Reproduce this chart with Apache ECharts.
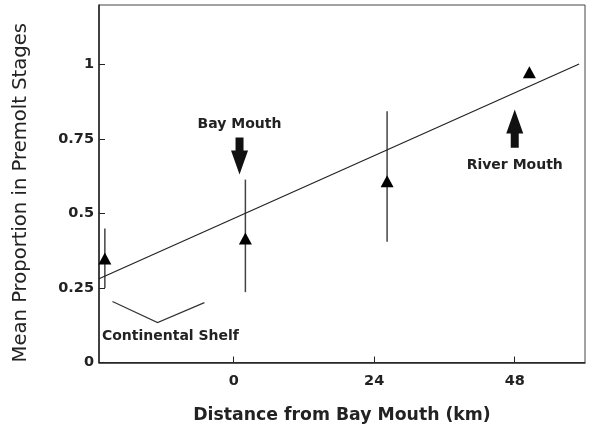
<!DOCTYPE html>
<html><head><meta charset="utf-8">
<script src="https://cdn.jsdelivr.net/npm/echarts@6/dist/echarts.min.js"></script>
<style>html,body{margin:0;padding:0;background:#fff}#c{width:594px;height:429px}</style>
</head><body><div id="c"></div>
<script>
// Data
var siteX = [-22, 2, 26.2, 50.5];
var meanY = [0.349, 0.416, 0.608, 0.974];
var errLow = [0.25, 0.236, 0.405, null];
var errHigh = [0.45, 0.614, 0.843, null];
var fitX = [-23, 59];
var fitY = [0.281, 1.002];
var xTicks = [0, 24, 48];
var yTicks = [0, 0.25, 0.5, 0.75, 1];
// annotations (data coordinates)
var bayArrow = {x: 1.0, yTop: 0.755, yTip: 0.631, label: 'Bay Mouth', labelY: 0.80};
var riverArrow = {x: 48.0, yTip: 0.849, yBottom: 0.721, label: 'River Mouth', labelY: 0.662};
var shelfBracket = [[-20.7, 0.205], [-13.0, 0.134], [-5.0, 0.201]];
var shelfLabel = {x: -10.8, y: 0.087, text: 'Continental Shelf'};

var FONT = 'DejaVu Sans';
var chart = echarts.init(document.getElementById('c'), null, {renderer: 'canvas'});

var errData = siteX.map(function (x, i) { return [x, errLow[i], errHigh[i]]; }).filter(function (d) { return d[1] != null; });

function arrowShape(api, x, yTail, yTip, up) {
  var tail = api.coord([x, yTail]);
  var tip = api.coord([x, yTip]);
  var dir = up ? -1 : 1;
  var headLen = 24, headW = 8.5, shaftW = 4;
  var neckY = tip[1] - dir * headLen;
  return {
    type: 'polygon',
    shape: {points: [
      [tail[0] - shaftW, tail[1]], [tail[0] + shaftW, tail[1]],
      [tail[0] + shaftW, neckY], [tail[0] + headW, neckY],
      [tip[0], tip[1]],
      [tail[0] - headW, neckY], [tail[0] - shaftW, neckY]
    ]},
    style: {fill: '#111'}
  };
}

var annotStyle = {fontFamily: FONT, fontSize: 14, fontWeight: 'bold', fill: '#222', align: 'center', verticalAlign: 'middle'};

var option = {
  animation: false,
  backgroundColor: '#fff',
  grid: {left: 99, right: 9, top: 5, bottom: 66, show: true, borderColor: '#444', borderWidth: 1},
  xAxis: {
    type: 'value', min: -23, max: 60,
    name: 'Distance from Bay Mouth (km)', nameLocation: 'middle', nameGap: 53,
    nameTextStyle: {fontFamily: FONT, fontSize: 17.3, fontWeight: 'bold', color: '#222', verticalAlign: 'middle'},
    axisLine: {show: true, onZero: false, lineStyle: {color: '#222', width: 1.5}},
    axisTick: {show: true, inside: true, length: 6, customValues: xTicks, lineStyle: {color: '#222'}},
    axisLabel: {customValues: xTicks, fontFamily: FONT, fontSize: 14.5, fontWeight: 'bold', color: '#222', margin: 11},
    splitLine: {show: false}
  },
  yAxis: {
    type: 'value', min: 0, max: 1.2,
    name: 'Mean Proportion in Premolt Stages', nameLocation: 'middle', nameGap: 78, nameRotate: 90,
    nameTextStyle: {fontFamily: FONT, fontSize: 19.6, color: '#222', verticalAlign: 'middle', padding: [0, 18, 0, 0]},
    axisLine: {show: true, onZero: false, lineStyle: {color: '#222', width: 1.5}},
    axisTick: {show: true, inside: true, length: 6, customValues: yTicks, lineStyle: {color: '#222'}},
    axisLabel: {customValues: yTicks, fontFamily: FONT, fontSize: 14.5, fontWeight: 'bold', color: '#222', margin: 5,
      formatter: function (v) { return String(v); }},
    splitLine: {show: false}
  },
  series: [
    {
      type: 'custom', name: 'err', z: 2,
      data: errData,
      renderItem: function (params, api) {
        var lo = api.coord([api.value(0), api.value(1)]);
        var hi = api.coord([api.value(0), api.value(2)]);
        return {type: 'line', shape: {x1: lo[0], y1: lo[1], x2: hi[0], y2: hi[1]}, style: {stroke: '#444', lineWidth: 1.5}};
      }
    },
    {
      type: 'line', name: 'fit', z: 3,
      data: fitX.map(function (x, i) { return [x, fitY[i]]; }),
      showSymbol: false, symbol: 'none',
      lineStyle: {color: '#222', width: 1.2}
    },
    {
      type: 'scatter', name: 'mean', z: 4,
      data: siteX.map(function (x, i) { return [x, meanY[i]]; }),
      symbol: 'triangle', symbolSize: [13, 12],
      itemStyle: {color: '#000', opacity: 1}
    },
    {
      type: 'custom', name: 'annot', z: 5,
      data: [[0]],
      renderItem: function (params, api) {
        var kids = [];
        kids.push(arrowShape(api, bayArrow.x, bayArrow.yTop, bayArrow.yTip, false));
        kids.push(arrowShape(api, riverArrow.x, riverArrow.yBottom, riverArrow.yTip, true));
        var bl = api.coord([bayArrow.x, bayArrow.labelY]);
        kids.push({type: 'text', x: bl[0], y: bl[1], style: Object.assign({text: bayArrow.label}, annotStyle)});
        var rl = api.coord([riverArrow.x, riverArrow.labelY]);
        kids.push({type: 'text', x: rl[0], y: rl[1], style: Object.assign({text: riverArrow.label}, annotStyle)});
        var pts = shelfBracket.map(function (p) { return api.coord(p); });
        kids.push({type: 'polyline', shape: {points: pts}, style: {stroke: '#333', lineWidth: 1.2, fill: null}});
        var sl = api.coord([shelfLabel.x, shelfLabel.y]);
        kids.push({type: 'text', x: sl[0], y: sl[1], style: Object.assign({text: shelfLabel.text}, annotStyle)});
        return {type: 'group', children: kids};
      }
    }
  ]
};
chart.setOption(option);
</script></body></html>
